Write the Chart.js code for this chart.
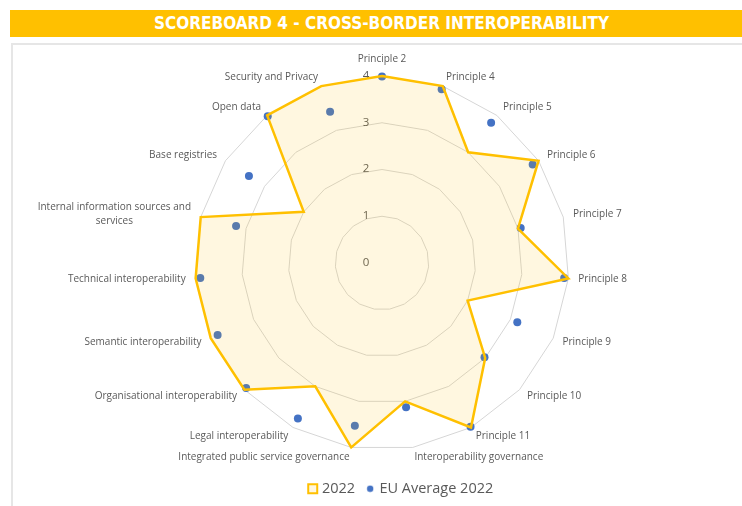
<!DOCTYPE html>
<html>
<head>
<meta charset="utf-8">
<script src="https://cdn.jsdelivr.net/npm/chart.js@4.4.1/dist/chart.umd.min.js"></script>
<style>
  body { margin: 0; background: #fff; }
  #wrap { position: relative; width: 742px; height: 506px; overflow: hidden; }
  #frame { position: absolute; left: 11px; top: 43px; width: 760px; height: 500px; border: 2px solid #e6e6e6; box-sizing: border-box; }
  #banner { position: absolute; left: 10px; top: 10px; width: 743px; height: 27px; background: #FFC000; color: #fff;
    font: bold 17px "DejaVu Sans Condensed", "DejaVu Sans", sans-serif; text-align: center; line-height: 27px; }
  canvas { position: absolute; left: 0; top: 0; }
</style>
</head>
<body>
<div id="wrap">
  <div id="frame"></div>
  <div id="banner">SCOREBOARD 4 - CROSS-BORDER INTEROPERABILITY</div>
  <canvas id="radarChart" width="742" height="506"></canvas>
</div>
<script>
// Categories, clockwise from the top
const categories = [
    'Principle 2', 'Principle 4', 'Principle 5', 'Principle 6', 'Principle 7', 'Principle 8',
    'Principle 9', 'Principle 10', 'Principle 11', 'Interoperability governance',
    'Integrated public service governance', 'Legal interoperability', 'Organisational interoperability',
    'Semantic interoperability', 'Technical interoperability',
    ['Internal information sources and', 'services'],
    'Base registries', 'Open data', 'Security and Privacy'
];
const score2022 = [4, 4, 3, 4, 3, 4, 2, 3, 4, 3, 4, 3, 4, 4, 4, 4, 2, 4, 4];
const euAverage2022 = [3.99, 3.93, 3.8, 3.85, 3.06, 3.91, 3.16, 2.98, 3.98, 3.13, 3.53, 3.78, 3.95, 3.84, 3.9, 3.22, 3.4, 3.98, 3.42];
const tickValues = [0, 1, 2, 3, 4];

const YELLOW = '#FFC000';
const BLUE = '#4472C4';
const GREY_TEXT = '#595959';
const RADIUS = 187;        // polygon radius at value 4
const CENTER_SHIFT = -19;  // plot sits a bit left of the legend centre
const LABEL_GAP = 10;

// small dot used as the legend marker of the EU series
const euDot = document.createElement('canvas');
euDot.width = euDot.height = 8;
const g = euDot.getContext('2d');
g.fillStyle = BLUE;
g.beginPath();
g.arc(4, 4, 3.2, 0, Math.PI * 2);
g.fill();

// tick numbers sit left of the vertical axis, under the data
const tickLabels = {
    id: 'tickLabels',
    beforeDatasetsDraw(chart) {
        const s = chart.scales.r;
        const ctx = chart.ctx;
        ctx.save();
        ctx.font = '11.5px "Open Sans"';
        ctx.fillStyle = GREY_TEXT;
        ctx.textAlign = 'center';
        ctx.textBaseline = 'middle';
        tickValues.forEach(v => {
            const p = s.getPointPositionForValue(0, v);
            ctx.fillText(String(v), p.x - 16, p.y - 0.5);
        });
        ctx.restore();
    }
};

// category labels placed like Excel does: left/right of the point, centred at the top
const categoryLabels = {
    id: 'categoryLabels',
    afterDatasetsDraw(chart) {
        const s = chart.scales.r;
        const ctx = chart.ctx;
        const lineH = 14;
        ctx.save();
        ctx.font = '10px "Open Sans"';
        ctx.fillStyle = GREY_TEXT;
        ctx.textAlign = 'center';
        ctx.textBaseline = 'middle';
        chart.data.labels.forEach((label, i) => {
            const lines = Array.isArray(label) ? label : [label];
            const deg = s.getIndexAngle(i) * 180 / Math.PI;
            const p = s.getPointPosition(i, s.drawingArea + LABEL_GAP);
            const w = Math.max(...lines.map(t => ctx.measureText(t).width));
            let cx = p.x;
            let top = p.y - lines.length * lineH / 2;
            if (deg < 1 || deg > 359) {
                top = p.y - lines.length * lineH;
            } else if (deg < 180) {
                cx = p.x + w / 2;
            } else {
                cx = p.x - w / 2;
            }
            lines.forEach((t, k) => ctx.fillText(t, cx, top + lineH * k + lineH / 2));
        });
        ctx.restore();
    }
};

new Chart(document.getElementById('radarChart'), {
    type: 'radar',
    data: {
        labels: categories,
        datasets: [{
            label: '2022',
            data: score2022,
            borderColor: YELLOW,
            borderWidth: 2.5,
            backgroundColor: 'rgba(255, 192, 0, 0.12)',
            fill: true,
            pointRadius: 0,
            pointHoverRadius: 0,
            pointStyle: 'rect',
            pointBackgroundColor: 'rgba(255, 192, 0, 0.12)',
            pointBorderColor: YELLOW,
            pointBorderWidth: 2
        }, {
            label: 'EU Average 2022',
            data: euAverage2022,
            showLine: false,
            fill: false,
            borderColor: BLUE,
            backgroundColor: BLUE,
            pointStyle: 'circle',
            pointRadius: 4,
            pointBackgroundColor: BLUE,
            pointBorderColor: BLUE,
            pointBorderWidth: 0
        }]
    },
    options: {
        responsive: false,
        animation: false,
        devicePixelRatio: 1,
        layout: { padding: { left: 62, right: 0, top: 58, bottom: 0 } },
        scales: {
            r: {
                min: 0,
                max: 4,
                ticks: { stepSize: 1, display: false },
                grid: { circular: false, color: '#d6d6d6', lineWidth: 1 },
                angleLines: { display: false },
                pointLabels: { display: false },
                afterFit: (s) => {
                    s.xCenter += CENTER_SHIFT - 1;
                    s.drawingArea = RADIUS;
                }
            }
        },
        plugins: {
            tooltip: { enabled: false },
            legend: {
                position: 'bottom',
                labels: {
                    usePointStyle: true,
                    boxWidth: 4,
                    boxHeight: 9,
                    padding: 13,
                    color: GREY_TEXT,
                    font: { family: 'Open Sans', size: 14.5 },
                    generateLabels(chart) {
                        const items = Chart.defaults.plugins.legend.labels.generateLabels(chart);
                        items[1].pointStyle = euDot;
                        return items;
                    }
                }
            }
        }
    },
    plugins: [tickLabels, categoryLabels]
});
</script>
</body>
</html>
